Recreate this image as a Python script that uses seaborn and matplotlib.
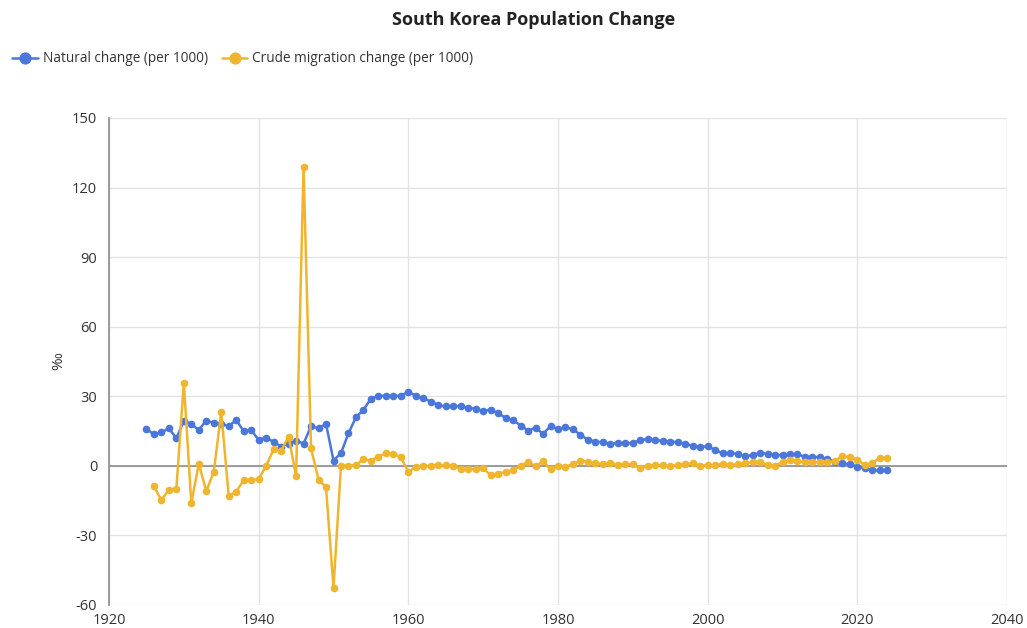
import numpy as np
import pandas as pd
import matplotlib
matplotlib.use("Agg")
import matplotlib.pyplot as plt
import seaborn as sns

# natural change per 1000, 1925-2024
natural_years = list(range(1925, 2025))
natural_change = [
    15.8, 13.7, 14.4, 16.2, 11.9, 19.4, 18.0, 15.5, 19.5, 18.5,
    18.1, 17.2, 19.7, 15.0, 15.4, 11.2, 12.2, 10.3, 8.3, 9.6,
    10.9, 9.6, 17.1, 16.2, 18.1, 2.3, 5.5, 14.0, 21.0, 24.1,
    29.0, 30.2, 30.2, 30.2, 30.2, 32.0, 30.2, 29.2, 27.7, 26.2,
    25.6, 25.6, 25.9, 25.0, 24.7, 23.6, 24.3, 22.6, 20.8, 19.7,
    17.4, 15.2, 16.4, 13.8, 17.1, 15.8, 16.7, 15.8, 13.4, 11.2,
    10.5, 10.1, 9.5, 9.8, 9.8, 9.8, 11.2, 11.6, 11.1, 10.8,
    10.5, 10.2, 9.5, 8.6, 8.1, 8.5, 6.8, 5.5, 5.5, 5.2,
    4.3, 4.6, 5.7, 5.0, 4.6, 4.7, 4.9, 4.9, 4.0, 3.9,
    3.7, 3.0, 1.7, 1.2, 0.6, -0.3, -1.0, -2.0, -2.0, -2.0,
]

# crude migration change per 1000, 1926-2024
migration_years = list(range(1926, 2025))
migration_change = [
    -8.8, -14.8, -10.3, -9.8, 35.8, -16.1, 0.9, -10.9, -2.6,
    23.2, -13.1, -11.1, -6.2, -6.3, -5.7, 0.0, 7.2, 6.5, 12.6,
    -4.5, 129.0, 7.5, -6.0, -9.2, -52.6, 0.1, 0.1, 0.3, 2.9,
    2.3, 3.9, 5.5, 5.2, 3.7, -2.7, -0.3, -0.1, 0.1, 0.3,
    0.3, 0.1, -1.4, -1.4, -1.4, -1.1, -4.0, -3.3, -2.6, -1.9,
    0.0, 1.6, -0.1, 1.9, -1.4, 0.1, -0.3, 0.7, 2.2, 1.7,
    1.2, 0.7, 1.4, 0.3, 0.7, 0.7, -0.9, 0.1, 0.3, 0.3,
    0.0, 0.3, 0.7, 1.2, 0.1, 0.3, 0.3, 1.0, 0.3, 0.6,
    1.2, 1.6, 1.7, 0.3, 0.1, 1.6, 2.6, 1.9, 1.7, 1.7,
    1.6, 1.7, 2.0, 4.3, 3.7, 2.6, 0.4, 1.2, 3.4, 3.4,
]

df_nat = pd.DataFrame({"year": natural_years, "value": natural_change})
df_mig = pd.DataFrame({"year": migration_years, "value": migration_change})

sns.set_style("white")
plt.rcParams["font.family"] = ["Open Sans", "DejaVu Sans"]
plt.rcParams["axes.unicode_minus"] = False

blue = "#4a77d9"
yellow = "#f0b52f"

fig = plt.figure(figsize=(10.27, 6.28), dpi=100)
ax = fig.add_axes([109 / 1027, 1 - 605 / 628, 898 / 1027, 487 / 628])

sns.lineplot(data=df_nat, x="year", y="value", ax=ax, color=blue, marker="o",
             markersize=5.5, markeredgewidth=0, linewidth=1.8,
             label="Natural change (per 1000)", zorder=3)
sns.lineplot(data=df_mig, x="year", y="value", ax=ax, color=yellow, marker="o",
             markersize=5.5, markeredgewidth=0, linewidth=1.8,
             label="Crude migration change (per 1000)", zorder=4)

ax.set_xlim(1920, 2040)
ax.set_ylim(-60, 150)
ax.set_xticks(np.arange(1920, 2041, 20))
ax.set_yticks(np.arange(-60, 151, 30))
ax.grid(True, color="#e3e3e3", linewidth=1)
ax.set_axisbelow(True)
ax.axhline(0, color="#8c8c8c", linewidth=1.2, zorder=2)

for side in ["top", "right", "bottom"]:
    ax.spines[side].set_visible(False)
ax.spines["left"].set_color("#8c8c8c")
ax.spines["left"].set_linewidth(1.2)
ax.tick_params(axis="y", length=5, color="#8c8c8c", labelsize=10.5, labelcolor="#333333")
ax.tick_params(axis="x", length=0, labelsize=10.5, labelcolor="#333333", pad=6)

ax.set_xlabel("")
ax.set_ylabel("‰", fontsize=11, color="#333333", labelpad=4)

fig.text(534 / 1027, 1 - 20 / 628, "South Korea Population Change", ha="center", va="center",
         fontsize=13, fontweight="bold", color="#222222")

ax.legend(loc="center left", bbox_to_anchor=(0.0, 1 - 59 / 628), bbox_transform=fig.transFigure,
          ncol=2, frameon=False, fontsize=9.8, handlelength=1.9, handletextpad=0.35,
          columnspacing=1.0, markerscale=1.6, labelcolor="#333333")

fig.savefig("out.png", dpi=100)
